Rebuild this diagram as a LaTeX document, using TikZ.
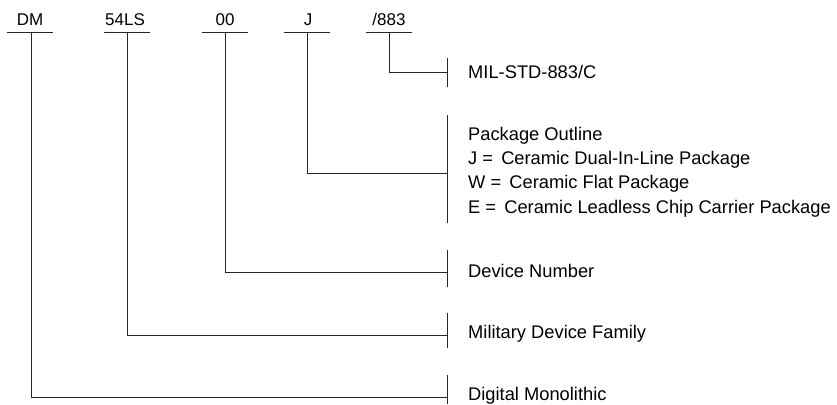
\documentclass[tikz,border=0pt]{standalone}
\usepackage{fontspec}
\setmainfont{Liberation Sans}
\begin{document}
\begin{tikzpicture}[x=1pt,y=-1pt,
  code/.style={anchor=base,inner sep=0pt,font=\fontsize{17}{20}\selectfont},
  desc/.style={anchor=base west,inner sep=0pt,font=\fontsize{18.3}{24}\selectfont},
  ln/.style={line width=1pt,black!85}]
\useasboundingbox (0,0) rectangle (837,404);
% top codes
\node[code] (dm)  at (30,26) {DM};
\node[code] (ls)  at (125,26) {54LS};
\node[code] (num) at (225,26) {00};
\node[code] (pk)  at (308,26) {J};
\node[code] (ml)  at (389,26) {/883};
% underlines
\coordinate (udm) at (31,33);
\coordinate (uls) at (127,33);
\coordinate (unum) at (225,33);
\coordinate (upk) at (307,33);
\coordinate (uml) at (389,33);
\draw[ln] (7,33) -- (53,33);
\draw[ln] (104,33) -- (150,33);
\draw[ln] (202,33) -- (248,33);
\draw[ln] (284,33) -- (330,33);
\draw[ln] (366,33) -- (412,33);
% descriptions
\node[desc] (dmil) at (468,78) {MIL-STD-883/C};
\node[desc] (dpkg) at (468,140) {Package Outline};
\node[desc] (dpj) at (468,164) {J = \,Ceramic Dual-In-Line Package};
\node[desc] (dpw) at (468,188) {W = \,Ceramic Flat Package};
\node[desc] (dpe) at (468,213) {E = \,Ceramic Leadless Chip Carrier Package};
\node[desc] (dnum) at (468,277) {Device Number};
\node[desc] (dls) at (468,338) {Military Device Family};
\node[desc] (ddm) at (468,400) {Digital Monolithic};
% brackets
\coordinate (bmil) at (447,72);
\coordinate (bpkg) at (447,173);
\coordinate (bnum) at (447,272);
\coordinate (bls) at (447,335);
\coordinate (bdm) at (447,397);
\draw[ln] (447,58) -- (447,87);
\draw[ln] (447,115) -- (447,223);
\draw[ln] (447,250) -- (447,287);
\draw[ln] (447,313) -- (447,348);
\draw[ln] (447,375) -- (447,404);
% connectors
\draw[ln] (uml) |- (bmil);
\draw[ln] (upk) |- (bpkg);
\draw[ln] (unum) |- (bnum);
\draw[ln] (uls) |- (bls);
\draw[ln] (udm) |- (bdm);
\end{tikzpicture}
\end{document}
